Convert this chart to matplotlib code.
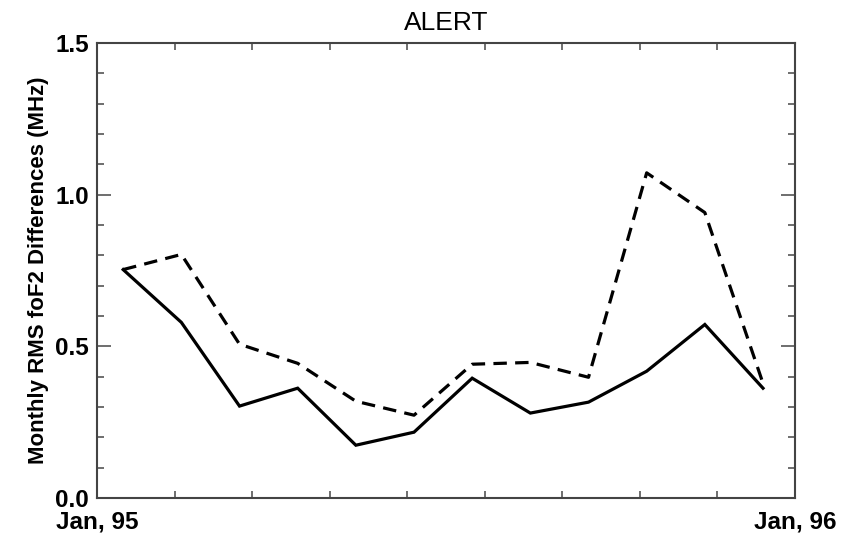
import matplotlib
matplotlib.use("Agg")
import matplotlib.pyplot as plt
import numpy as np
from matplotlib.ticker import FixedLocator, MultipleLocator

months = np.arange(12) + 0.5
solid_vals = [0.753, 0.579, 0.303, 0.362, 0.174, 0.217, 0.395, 0.280, 0.316, 0.418, 0.572, 0.362]
dashed_vals = [0.753, 0.803, 0.507, 0.444, 0.319, 0.273, 0.441, 0.447, 0.398, 1.072, 0.941, 0.378]
x_tick_labels = ["Jan, 95", "Jan, 96"]
title = "ALERT"
ylabel = "Monthly RMS foF2 Differences (MHz)"

reg = ["Liberation Sans", "DejaVu Sans"]

fig = plt.figure(figsize=(8.52, 5.35), dpi=100)
ax = fig.add_axes([97/852, 1-498/535, (795-97)/852, (498-43)/535])

ax.plot(months - 0.05, solid_vals, color="black", lw=2.3, solid_joinstyle="miter")
ax.plot(months - 0.05, dashed_vals, color="black", lw=2.3, linestyle=(0, (4.2, 2.6)))

ax.set_xlim(0, 12)
ax.set_ylim(0, 1.5)
ax.xaxis.set_major_locator(FixedLocator([0, 12]))
ax.xaxis.set_minor_locator(FixedLocator([12/9*i for i in range(1, 9)]))
ax.set_xticklabels(x_tick_labels)
ax.yaxis.set_major_locator(FixedLocator([0, 0.5, 1.0, 1.5]))
ax.yaxis.set_minor_locator(MultipleLocator(0.1))
ax.set_yticklabels(["0.0", "0.5", "1.0", "1.5"])

ax.tick_params(which="both", direction="in", top=True, right=True, color="#555555", width=1.2)
ax.tick_params(which="major", length=10)
ax.tick_params(which="minor", length=5)
ax.tick_params(axis="x", which="major", length=0, pad=9)
ax.tick_params(axis="y", pad=6)

for lab in ax.get_xticklabels() + ax.get_yticklabels():
    lab.set_fontfamily(reg)
    lab.set_fontweight("bold")
    lab.set_fontsize(17.5)

for s in ax.spines.values():
    s.set_color("#444444")
    s.set_linewidth(1.5)

ax.set_title(title, fontsize=19, family=reg, pad=9)
ax.set_ylabel(ylabel, fontsize=16, family=reg, fontweight="bold", labelpad=4)

fig.savefig("out.png", dpi=100)
